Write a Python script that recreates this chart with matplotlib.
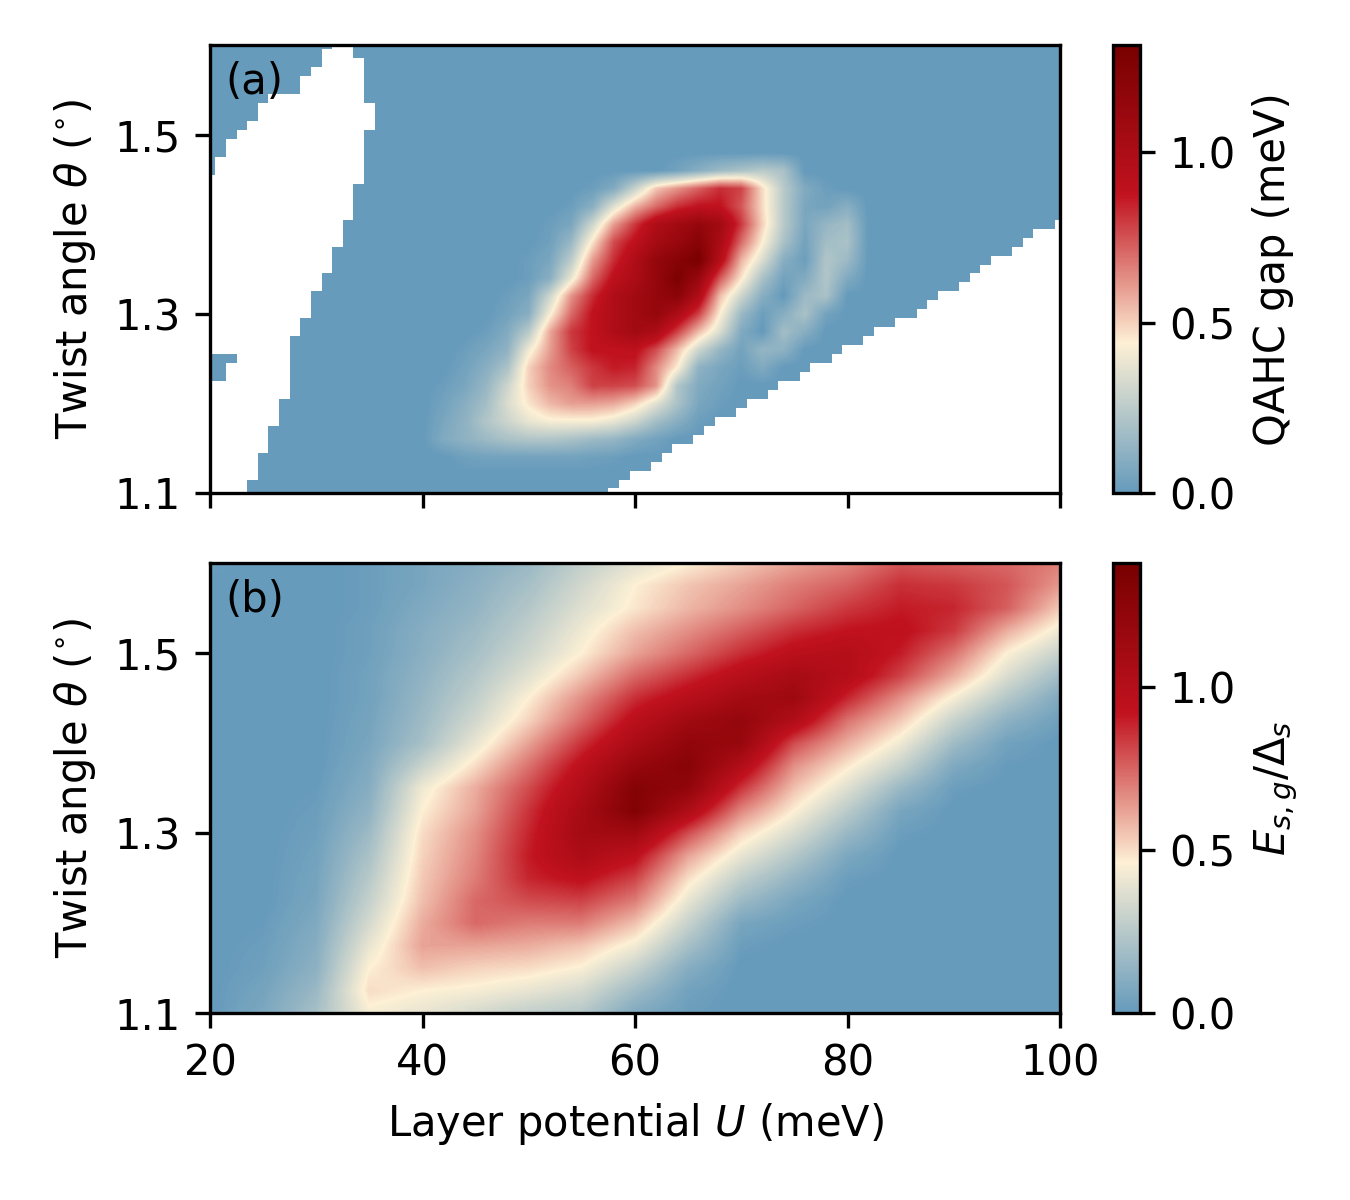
import numpy as np
import matplotlib
matplotlib.use('Agg')
import matplotlib.pyplot as plt
from matplotlib.colors import LinearSegmentedColormap

# ---------------- panel (a): QAHC gap (meV) ----------------
# values read on a 2 meV x 0.02 deg grid, only the window around the gapped pocket
gap_u = list(range(42, 81, 2))
gap_theta = [1.14, 1.16, 1.18, 1.20, 1.22, 1.24, 1.26, 1.28, 1.30,
             1.32, 1.34, 1.36, 1.38, 1.40, 1.42, 1.44, 1.46]
gap_rows = [
    [0, 0.03, 0.04, 0.04, 0.04, 0.04, 0.04, 0.03, 0.02, 0, 0, 0, 0, 0, 0, 0, 0, 0, 0, 0],
    [0.08, 0.12, 0.16, 0.2, 0.22, 0.22, 0.2, 0.16, 0.14, 0.08, 0.04, 0, 0, 0, 0, 0, 0, 0, 0, 0],
    [0.06, 0.12, 0.22, 0.3, 0.38, 0.42, 0.42, 0.42, 0.38, 0.3, 0.18, 0.1, 0.02, 0, 0, 0, 0, 0, 0, 0],
    [0.04, 0.1, 0.18, 0.34, 0.46, 0.55, 0.6, 0.6, 0.58, 0.5, 0.36, 0.2, 0.06, 0.02, 0, 0, 0, 0, 0, 0],
    [0.02, 0.06, 0.14, 0.3, 0.5, 0.62, 0.66, 0.78, 0.78, 0.76, 0.62, 0.22, 0.08, 0.04, 0, 0, 0, 0, 0, 0],
    [0, 0.04, 0.1, 0.2, 0.5, 0.64, 0.72, 0.8, 0.86, 0.84, 0.64, 0.44, 0.12, 0.06, 0.02, 0.08, 0, 0, 0, 0],
    [0, 0.02, 0.06, 0.12, 0.4, 0.6, 0.78, 0.88, 0.88, 0.9, 0.76, 0.54, 0.3, 0.14, 0.04, 0.14, 0.12, 0, 0, 0],
    [0, 0, 0.02, 0.08, 0.24, 0.58, 0.8, 0.88, 0.98, 1.06, 1.0, 0.78, 0.54, 0.34, 0.08, 0, 0.18, 0.1, 0, 0],
    [0, 0, 0, 0.04, 0.1, 0.42, 0.7, 0.88, 0.98, 1.06, 1.14, 1.0, 0.78, 0.44, 0.16, 0.02, 0.1, 0.2, 0.04, 0],
    [0, 0, 0, 0.02, 0.06, 0.3, 0.62, 0.82, 0.98, 1.06, 1.14, 1.2, 0.98, 0.54, 0.3, 0.1, 0, 0.16, 0.2, 0],
    [0, 0, 0, 0, 0.02, 0.1, 0.38, 0.7, 0.9, 1.0, 1.14, 1.28, 1.12, 0.74, 0.46, 0.2, 0.04, 0.08, 0.22, 0.08],
    [0, 0, 0, 0, 0.02, 0.06, 0.25, 0.6, 0.82, 0.98, 1.14, 1.22, 1.3, 0.95, 0.56, 0.34, 0.1, 0.02, 0.22, 0.16],
    [0, 0, 0, 0, 0, 0.03, 0.15, 0.46, 0.76, 0.9, 1.04, 1.12, 1.22, 1.02, 0.7, 0.44, 0.2, 0.04, 0.18, 0.2],
    [0, 0, 0, 0, 0, 0.02, 0.06, 0.3, 0.6, 0.8, 0.98, 1.06, 1.14, 1.06, 0.8, 0.5, 0.24, 0.06, 0.14, 0.18],
    [0, 0, 0, 0, 0, 0, 0.02, 0.1, 0.35, 0.56, 0.7, 0.82, 0.88, 0.88, 0.74, 0.48, 0.24, 0.06, 0.04, 0.1],
    [0, 0, 0, 0, 0, 0, 0, 0.02, 0.08, 0.28, 0.52, 0.62, 0.72, 0.82, 0.78, 0.48, 0.24, 0.08, 0.02, 0],
    [0, 0, 0, 0, 0, 0, 0, 0, 0, 0, 0, 0.04, 0.1, 0.16, 0.2, 0.24, 0.2, 0, 0, 0],
]

# no-data (white) regions of panel (a), one entry per 0.01 deg row
mask_theta = [round(1.10 + 0.01 * i, 2) for i in range(51)]
left_lo = ([19.5] * 13 + [21.5, 21.5, 22.5] + [19.5] * 20
           + [20.5, 20.5, 21.5, 21.5, 22.5, 23.5, 24.5, 24.5, 25.5,
              28.5, 28.5, 29.5, 30.5, 30.5, 31.5])
left_hi = ([23.5, 23.5, 24.5, 24.5, 24.5, 25.5, 25.5, 25.5, 26.5, 26.5, 26.5]
           + [27.5] * 7 + [28.5, 28.5, 29.5, 29.5, 29.5, 30.5, 30.5,
                           31.5, 31.5, 31.5, 32.5, 32.5, 32.5]
           + [33.5] * 4 + [34.5] * 6 + [35.5] * 3 + [34.5] * 5 + [33.5, 33.5])
right_theta = mask_theta[:31]
right_lo = [57.5, 58.5, 59.5, 61.5, 62.5, 63.5, 65.5, 66.5, 67.5, 69.5, 70.5,
            72.5, 73.5, 75.5, 76.5, 78.5, 79.5, 81.5, 82.5, 84.5, 86.5, 87.5,
            88.5, 90.5, 91.5, 92.5, 93.5, 95.5, 96.5, 97.5, 99.5]

# ---------------- panel (b): E_sg / Delta_s ----------------
# one list per U column (5 meV steps), theta from 1.10 to 1.60 in 0.025 steps
ratio_u = list(range(20, 101, 5))
ratio_theta = [round(1.10 + 0.025 * i, 3) for i in range(21)]
ratio_cols = [
    [0] * 20 + [0.02],
    [0.07, 0.05, 0.03, 0.02, 0.01] + [0] * 16,
    [0.2, 0.16, 0.12, 0.1, 0.08, 0.06, 0.05, 0.04, 0.03, 0.02, 0.01] + [0] * 10,
    [0.44, 0.5, 0.46, 0.4, 0.34, 0.29, 0.25, 0.21, 0.17, 0.13, 0.1,
     0.08, 0.06, 0.05, 0.04, 0.04, 0.03, 0.03, 0.02, 0.02, 0.02],
    [0.4, 0.46, 0.56, 0.62, 0.6, 0.56, 0.54, 0.52, 0.5, 0.46, 0.42,
     0.3, 0.2, 0.17, 0.15, 0.13, 0.11, 0.1, 0.08, 0.06, 0.06],
    [0.34, 0.44, 0.52, 0.62, 0.74, 0.74, 0.7, 0.68, 0.66, 0.62, 0.6,
     0.5, 0.4, 0.33, 0.28, 0.24, 0.2, 0.17, 0.14, 0.12, 0.1],
    [0.28, 0.4, 0.5, 0.6, 0.7, 0.8, 0.88, 0.9, 0.88, 0.85, 0.8,
     0.72, 0.62, 0.52, 0.46, 0.38, 0.32, 0.28, 0.24, 0.2, 0.16],
    [0.24, 0.34, 0.45, 0.55, 0.7, 0.82, 0.94, 1.05, 1.1, 1.08, 1.02,
     0.95, 0.85, 0.74, 0.66, 0.55, 0.46, 0.42, 0.37, 0.33, 0.28],
    [0.08, 0.18, 0.3, 0.43, 0.56, 0.7, 0.82, 0.95, 1.12, 1.32, 1.3,
     1.18, 1.06, 0.96, 0.86, 0.74, 0.62, 0.56, 0.48, 0.46, 0.38],
    [0.02, 0.04, 0.1, 0.2, 0.3, 0.4, 0.5, 0.62, 0.8, 1.04, 1.22,
     1.28, 1.22, 1.12, 0.98, 0.86, 0.74, 0.66, 0.58, 0.55, 0.46],
    [0, 0, 0, 0.02, 0.06, 0.17, 0.28, 0.4, 0.52, 0.68, 0.85,
     1.02, 1.18, 1.2, 1.1, 0.98, 0.86, 0.76, 0.66, 0.62, 0.54],
    [0, 0, 0, 0, 0.02, 0.06, 0.14, 0.24, 0.35, 0.46, 0.56,
     0.66, 0.8, 1.02, 1.14, 1.08, 0.96, 0.86, 0.75, 0.7, 0.62],
    [0, 0, 0, 0, 0, 0, 0.02, 0.07, 0.16, 0.26, 0.37,
     0.48, 0.6, 0.72, 0.88, 1.0, 1.0, 0.92, 0.84, 0.76, 0.68],
    [0, 0, 0, 0, 0, 0, 0, 0, 0.02, 0.06, 0.16,
     0.3, 0.42, 0.54, 0.66, 0.82, 0.9, 0.94, 0.9, 0.86, 0.78],
    [0, 0, 0, 0, 0, 0, 0, 0, 0, 0, 0.02,
     0.08, 0.18, 0.3, 0.44, 0.6, 0.72, 0.84, 0.88, 0.84, 0.76],
    [0, 0, 0, 0, 0, 0, 0, 0, 0, 0, 0,
     0.01, 0.04, 0.12, 0.24, 0.36, 0.46, 0.6, 0.76, 0.78, 0.74],
    [0, 0, 0, 0, 0, 0, 0, 0, 0, 0, 0,
     0, 0, 0.03, 0.08, 0.18, 0.3, 0.42, 0.54, 0.64, 0.7],
]

gap_vmax = 1.314
ratio_vmax = 1.38
narrow = ['Liberation Sans Narrow', 'DejaVu Sans Condensed', 'DejaVu Sans']


def cell_extent(u, th):
    du = u[1] - u[0]
    dt = th[1] - th[0]
    return [u[0] - du / 2, u[-1] + du / 2, th[0] - dt / 2, th[-1] + dt / 2]


def main():
    plt.rcParams['font.family'] = 'DejaVu Sans'
    plt.rcParams['font.size'] = 10

    cmap = LinearSegmentedColormap.from_list(
        'qahc', ['#669bbc', '#fdf0d5', '#c1121f', '#780000'])

    # full grid for panel (a), zero outside the read window
    u_full = np.arange(20, 101, 2)
    th_full = np.round(np.arange(1.10, 1.601, 0.02), 2)
    gap = np.zeros((len(th_full), len(u_full)))
    i0 = int(np.argmin(np.abs(th_full - gap_theta[0])))
    j0 = int(np.argmin(np.abs(u_full - gap_u[0])))
    gap[i0:i0 + len(gap_theta), j0:j0 + len(gap_u)] = np.array(gap_rows)

    ratio = np.array(ratio_cols).T

    fig = plt.figure(figsize=(4.5, 4.0), dpi=300)
    ax_a = fig.add_axes([0.1556, 0.5892, 0.6296, 0.3733])
    ax_b = fig.add_axes([0.1556, 0.1558, 0.6296, 0.3750])
    cax_a = fig.add_axes([0.8244, 0.5892, 0.0200, 0.3733])
    cax_b = fig.add_axes([0.8244, 0.1558, 0.0200, 0.3750])

    im_a = ax_a.imshow(gap, origin='lower', aspect='auto', cmap=cmap,
                       vmin=0, vmax=gap_vmax,
                       extent=cell_extent(u_full, th_full),
                       interpolation='bilinear', interpolation_stage='data')
    # no-data regions
    ax_a.barh(mask_theta, np.array(left_hi) - np.array(left_lo), left=left_lo,
              height=0.01, color='white', linewidth=0, antialiased=False,
              zorder=2)
    ax_a.barh(right_theta, 101 - np.array(right_lo), left=right_lo,
              height=0.01, color='white', linewidth=0, antialiased=False,
              zorder=2)

    im_b = ax_b.imshow(ratio, origin='lower', aspect='auto', cmap=cmap,
                       vmin=0, vmax=ratio_vmax,
                       extent=cell_extent(ratio_u, ratio_theta),
                       interpolation='bilinear', interpolation_stage='data')

    for ax, tag in [(ax_a, '(a)'), (ax_b, '(b)')]:
        ax.set_xlim(20, 100)
        ax.set_ylim(1.1, 1.6)
        ax.set_xticks([20, 40, 60, 80, 100])
        ax.set_yticks([1.1, 1.3, 1.5])
        ax.set_ylabel(r'Twist angle $\theta$ ($^{\circ}$)')
        ax.text(0.018, 0.965, tag, transform=ax.transAxes,
                ha='left', va='top')

    ax_a.tick_params(labelbottom=False)
    ax_b.tick_params(axis='x', labelfontfamily=narrow)
    ax_b.set_xlabel(r'Layer potential $U$ (meV)', family=narrow)

    cb_a = fig.colorbar(im_a, cax=cax_a, ticks=[0, 0.5, 1.0])
    cb_a.set_label('QAHC gap (meV)')
    cb_b = fig.colorbar(im_b, cax=cax_b, ticks=[0, 0.5, 1.0])
    cb_b.set_label(r'$E_{s,g}/\Delta_s$')

    fig.savefig('out.png', dpi=300)


if __name__ == '__main__':
    main()
